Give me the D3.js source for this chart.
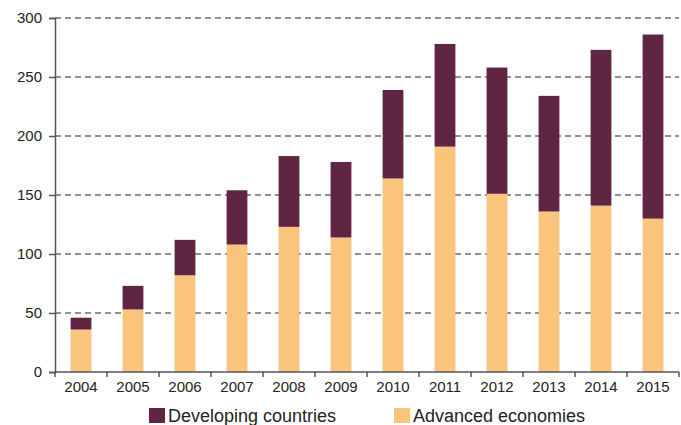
<!DOCTYPE html>
<html><head><meta charset="utf-8">
<script src="https://cdn.jsdelivr.net/npm/d3@7"></script>
<style>body{margin:0;background:#fff}svg{display:block}text{font-family:"Liberation Sans",Arial,sans-serif;fill:#222}</style>
</head><body><svg id="c" width="681" height="425"></svg>
<script>
const years = ["2004","2005","2006","2007","2008","2009","2010","2011","2012","2013","2014","2015"];
const advanced = [36,53,82,108,123,114,164,191,151,136,141,130];
const developing = [10,20,30,46,60,64,75,87,107,98,132,156];
const yTicks = [0,50,100,150,200,250,300];
const seriesNames = ["Developing countries","Advanced economies"];
const colors = {dev:"#5f2543", adv:"#fbc47c"};

(function(){
const svg = d3.select("#c");
const mLeft=55, mRight=679, mTop=18, mBottom=372;
const x = d3.scaleBand().domain(years).range([mLeft,mRight]).paddingInner(0.6).paddingOuter(0.3);
const y = d3.scaleLinear().domain([0,300]).range([mBottom,mTop]);

// gridlines
svg.append("g").selectAll("line").data(yTicks.filter(d=>d>0)).join("line")
  .attr("x1",mLeft).attr("x2",mRight).attr("y1",d=>y(d)).attr("y2",d=>y(d))
  .attr("stroke","#6e6e6e").attr("stroke-width",1.3).attr("stroke-dasharray","6,4");

const data = years.map((yr,i)=>({yr, adv:advanced[i], dev:developing[i]}));
const g = svg.append("g");
g.selectAll("rect.adv").data(data).join("rect").attr("class","adv")
  .attr("x",d=>x(d.yr)).attr("width",x.bandwidth())
  .attr("y",d=>y(d.adv)).attr("height",d=>y(0)-y(d.adv)).attr("fill",colors.adv);
g.selectAll("rect.dev").data(data).join("rect").attr("class","dev")
  .attr("x",d=>x(d.yr)).attr("width",x.bandwidth())
  .attr("y",d=>y(d.adv+d.dev)).attr("height",d=>y(d.adv)-y(d.adv+d.dev)).attr("fill",colors.dev);

// y axis
const ya = svg.append("g").attr("transform",`translate(${mLeft},0)`)
  .call(d3.axisLeft(y).tickValues(yTicks).tickSize(6).tickPadding(7));
ya.select(".domain").attr("stroke","#555").attr("stroke-width",1.5);
ya.selectAll(".tick line").attr("stroke","#555").attr("stroke-width",1.5);
ya.selectAll("text").style("font-size","15px").attr("fill","#222");

// x axis
const xa = svg.append("g").attr("transform",`translate(0,${mBottom})`)
  .call(d3.axisBottom(x).tickSize(0).tickPadding(9));
xa.select(".domain").attr("stroke","#555").attr("stroke-width",1.5).attr("d",`M${mLeft},0H${mRight}`);
xa.selectAll("text").style("font-size","15px").attr("fill","#222");
const bounds = years.map(yr=>x(yr)-x.step()*x.paddingInner()/2).concat([mRight]);
xa.append("g").selectAll("line").data(bounds).join("line")
  .attr("x1",d=>d).attr("x2",d=>d).attr("y1",0).attr("y2",5)
  .attr("stroke","#555").attr("stroke-width",1.5);

// legend
const leg = svg.append("g");
const items = [{name:seriesNames[0],c:colors.dev,x:149},{name:seriesNames[1],c:colors.adv,x:394}];
items.forEach(it=>{
  leg.append("rect").attr("x",it.x).attr("y",408).attr("width",16).attr("height",15).attr("fill",it.c);
  leg.append("text").attr("x",it.x+19).attr("y",422).style("font-size","18px").text(it.name);
});
})();
</script></body></html>
